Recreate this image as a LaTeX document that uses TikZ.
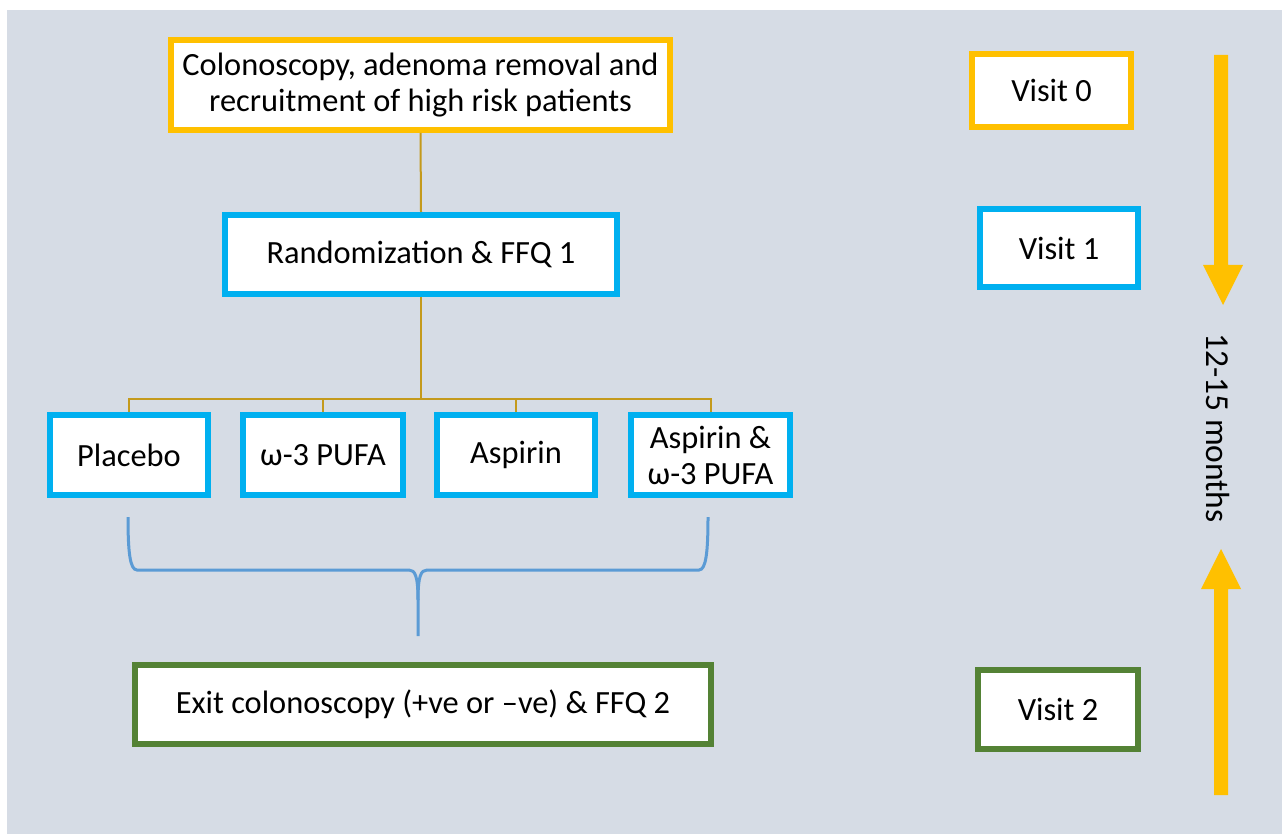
\documentclass[tikz,border=0pt]{standalone}
\usepackage{fontspec}
\setmainfont{Carlito}
\definecolor{bg}{HTML}{D6DCE5}
\definecolor{cOrange}{HTML}{FFC000}
\definecolor{cBlue}{HTML}{00B0F0}
\definecolor{cGreen}{HTML}{548235}
\definecolor{cGold}{HTML}{C49A1C}
\definecolor{cBrace}{HTML}{5B9BD5}
\begin{document}
\begin{tikzpicture}[x=1pt,y=-1pt,
  box/.style={draw, fill=white, line width=6pt, align=center, inner sep=0pt,
    font=\fontsize{32.4}{36}\selectfont},
  obox/.style={box, draw=cOrange},
  bbox/.style={box, draw=cBlue},
  gbox/.style={box, draw=cGreen},
  conn/.style={draw=cGold, line width=2pt},
  bracestyle/.style={draw=cBrace, line width=3pt},
  bigarrow/.style={fill=cOrange, draw=none}]
\useasboundingbox (0,0) rectangle (1282,834);
\fill[white] (0,0) rectangle (1282,834);
\fill[bg] (7,10) rectangle (1282,834);

\node[obox, minimum width=499pt, minimum height=90pt] (b0) at (420.5,85)
  {Colonoscopy, adenoma removal and\\recruitment of high risk patients};
\node[bbox, minimum width=392pt, minimum height=79pt] (rand) at (421,254.5)
  {Randomization \& FFQ 1};
\node[bbox, minimum width=158pt, minimum height=80pt] (placebo) at (129,455) {Placebo};
\node[bbox, minimum width=160pt, minimum height=80pt] (pufa) at (323,455) {ω-3 PUFA};
\node[bbox, minimum width=158pt, minimum height=80pt] (aspirin) at (516,455) {Aspirin};
\node[bbox, minimum width=159pt, minimum height=80pt] (both) at (710.5,455)
  {Aspirin \&\\ω-3 PUFA};
\node[gbox, minimum width=576pt, minimum height=79pt] (exit) at (423,704.5)
  {Exit colonoscopy (+ve or –ve) \& FFQ 2};

\node[obox, minimum width=159pt, minimum height=73pt] (v0) at (1051.5,90.5) {Visit 0};
\node[bbox, minimum width=158pt, minimum height=78pt] (v1) at (1059,248) {Visit 1};
\node[gbox, minimum width=160pt, minimum height=79pt] (v2) at (1058,709.5) {Visit 2};

% connectors
\coordinate (bus) at (421,399);
\draw[conn] (b0.south) -- (rand.north);
\draw[conn] (rand.south) -- (bus);
\draw[conn] (placebo.north) |- (both.north |- bus) -- (both.north);
\draw[conn] (pufa.north) -- (pufa.north |- bus);
\draw[conn] (aspirin.north) -- (aspirin.north |- bus);

% brace
\coordinate (brL) at (128,517);
\coordinate (brR) at (708,517);
\coordinate (brM) at (418,636);
\draw[bracestyle] (brL) .. controls (128,552) and (130,570) .. (137,570)
  -- (409,570) .. controls (415,570) and (418,576) .. (418,600) -- (brM);
\draw[bracestyle] (418,600) .. controls (418,576) and (421,570) .. (427,570)
  -- (699,570) .. controls (706,570) and (708,552) .. (brR);

% big arrows
\fill[bigarrow] (1214,55) -- (1228,55) -- (1228,265) -- (1243,265) -- (1223,305)
  -- (1203,265) -- (1214,265) -- cycle;
\fill[bigarrow] (1214,795) -- (1228,795) -- (1228,589) -- (1241,589) -- (1221,549)
  -- (1201,589) -- (1214,589) -- cycle;
\node[rotate=-90, font=\fontsize{33.5}{36}\selectfont, inner sep=0pt] (months) at (1218,428)
  {12-15 months};
\end{tikzpicture}
\end{document}
